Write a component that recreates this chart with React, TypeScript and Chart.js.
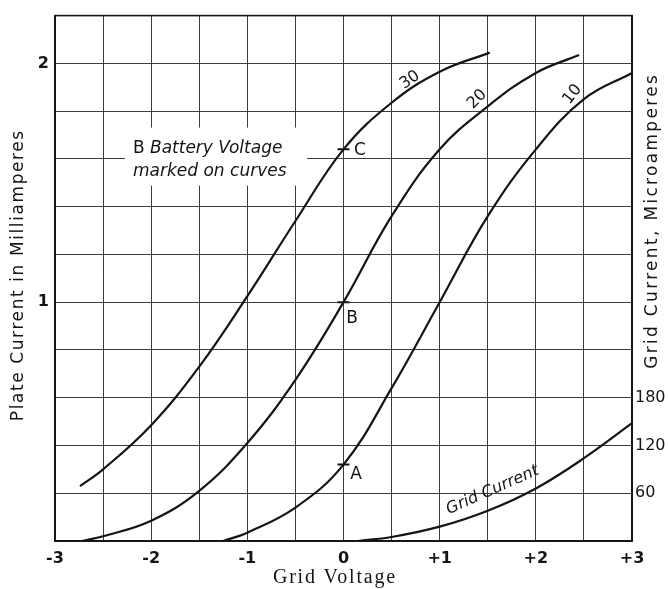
import React, { useEffect, useRef } from 'react';
import { Chart, registerables } from 'chart.js';

Chart.register(...registerables);

// Plate current (mA) vs grid voltage (V) for B battery voltages 30, 20, 10
const gridVoltage30 = [-2.74, -2.5, -2.0, -1.5, -1.0, -0.5, 0, 0.5, 1.0, 1.52];
const plateCurrent30 = [0.23, 0.3, 0.485, 0.73, 1.025, 1.34, 1.64, 1.835, 1.965, 2.045];

const gridVoltage20 = [-2.72, -2.5, -2.0, -1.5, -1.0, -0.5, 0, 0.5, 1.0, 1.5, 2.0, 2.45];
const plateCurrent20 = [0, 0.02, 0.085, 0.21, 0.41, 0.675, 1.0, 1.36, 1.64, 1.82, 1.96, 2.035];

const gridVoltage10 = [-1.25, -1.0, -0.5, 0, 0.5, 1.0, 1.5, 2.0, 2.5, 3.0];
const plateCurrent10 = [0, 0.035, 0.14, 0.32, 0.64, 1.0, 1.36, 1.64, 1.85, 1.96];

// Grid current (microamperes, right axis)
const gridVoltageG = [0.15, 0.5, 1.0, 1.5, 2.0, 2.5, 3.0];
const gridCurrentUA = [0, 5, 18, 38, 66, 104, 148];

// Marked points A, B, C
const markerVoltage = [0, 0, 0];
const markerCurrent = [0.32, 1.0, 1.64];
const markerLabels = ['A', 'B', 'C'];

// Tick labels
const leftTickValues = [1, 2];
const rightTickValues = [60, 120, 180];
const xTickValues = [-3, -2, -1, 0, 1, 2, 3];
const xTickLabels = ['-3', '-2', '-1', '0', '+1', '+2', '+3'];

// Curve labels (B battery voltage)
const curveLabels = ['30', '20', '10'];

const pts = (xs: number[], ys: number[]) => xs.map((x, i) => ({ x, y: ys[i] }));
const near = (v: number, arr: number[]) => arr.findIndex((a) => Math.abs(a - v) < 1e-6);

const INK = '#151515';
const GRID = '#3c3c3c';

function drawFitted(
  ctx: CanvasRenderingContext2D,
  text: string,
  x: number,
  y: number,
  width: number,
  font: string,
  rot: number
) {
  ctx.save();
  ctx.translate(x, y);
  ctx.rotate(rot);
  ctx.font = font;
  ctx.fillStyle = INK;
  ctx.textAlign = 'center';
  ctx.textBaseline = 'middle';
  const w = ctx.measureText(text).width;
  const sp = (width - w) / text.length;
  (ctx as any).letterSpacing = sp + 'px';
  ctx.fillText(text, sp / 2, 0);
  ctx.restore();
}

function drawRot(ctx: CanvasRenderingContext2D, text: string, x: number, y: number, font: string, rotDeg: number) {
  ctx.save();
  ctx.translate(x, y);
  ctx.rotate((rotDeg * Math.PI) / 180);
  ctx.font = font;
  ctx.fillStyle = INK;
  ctx.textAlign = 'center';
  ctx.textBaseline = 'middle';
  ctx.fillText(text, 0, 0);
  ctx.restore();
}

const textPlugin = {
  id: 'textPlugin',
  beforeDatasetsDraw(chart: any) {
    const ctx: CanvasRenderingContext2D = chart.ctx;
    const a = chart.chartArea;
    // white box behind the note
    const bx = a.left + 70;
    const by = a.top + 112;
    ctx.save();
    ctx.fillStyle = '#fff';
    ctx.fillRect(bx, by, 182, 58);
    ctx.fillStyle = INK;
    ctx.textBaseline = 'middle';
    ctx.textAlign = 'left';
    ctx.font = '17px "DejaVu Sans"';
    ctx.fillText('B', bx + 8, by + 21);
    ctx.font = 'italic 17px "DejaVu Sans"';
    ctx.fillText('Battery Voltage', bx + 25, by + 21);
    ctx.fillText('marked on curves', bx + 8, by + 44);
    ctx.restore();
  },
  afterDraw(chart: any) {
    const ctx: CanvasRenderingContext2D = chart.ctx;
    const a = chart.chartArea;
    const xs = chart.scales.x;
    const ys = chart.scales.y;
    // frame
    ctx.save();
    ctx.strokeStyle = INK;
    ctx.lineWidth = 1.6;
    ctx.strokeRect(a.left, a.top, a.right - a.left, a.bottom - a.top);
    ctx.restore();

    // axis titles
    drawFitted(ctx, 'Plate Current in Milliamperes', 19, 276, 292, '17px "DejaVu Sans"', -Math.PI / 2);
    drawFitted(ctx, 'Grid Current, Microamperes', 653, 222, 296, '17px "DejaVu Sans"', -Math.PI / 2);
    drawFitted(ctx, 'Grid Voltage', 334, 578, 124, '20px "Liberation Serif"', 0);

    // curve labels
    const P = (v: number, i: number) => [xs.getPixelForValue(v), ys.getPixelForValue(i)];
    let p = P(0.69, 1.93);
    drawRot(ctx, curveLabels[0], p[0], p[1], '16px "DejaVu Sans"', -35);
    p = P(1.39, 1.85);
    drawRot(ctx, curveLabels[1], p[0], p[1], '16px "DejaVu Sans"', -45);
    p = P(2.38, 1.87);
    drawRot(ctx, curveLabels[2], p[0], p[1], '16px "DejaVu Sans"', -52);

    // marker letters
    const offs = [
      [0.13, -0.04],
      [0.09, -0.07],
      [0.17, -0.005],
    ];
    markerLabels.forEach((t, k) => {
      const q = P(markerVoltage[k] + offs[k][0], markerCurrent[k] + offs[k][1]);
      drawRot(ctx, t, q[0], q[1], '17px "DejaVu Sans"', 0);
    });

    // grid current label
    p = P(1.55, 0.213);
    drawRot(ctx, 'Grid Current', p[0], p[1], 'italic 16px "DejaVu Sans"', -24);
  },
};

export default function App() {
  const ref = useRef<HTMLCanvasElement>(null);

  useEffect(() => {
    const canvas = ref.current;
    if (!canvas) return;
    const lineStyle = {
      borderColor: INK,
      backgroundColor: INK,
      borderWidth: 2.2,
      pointRadius: 0,
      fill: false,
      tension: 0.4,
    };
    const chart = new Chart(canvas, {
      type: 'line',
      data: {
        datasets: [
          { ...lineStyle, label: '30', data: pts(gridVoltage30, plateCurrent30), yAxisID: 'y' },
          { ...lineStyle, label: '20', data: pts(gridVoltage20, plateCurrent20), yAxisID: 'y' },
          { ...lineStyle, label: '10', data: pts(gridVoltage10, plateCurrent10), yAxisID: 'y' },
          { ...lineStyle, label: 'Grid Current', data: pts(gridVoltageG, gridCurrentUA), yAxisID: 'y2' },
          {
            label: 'points',
            data: pts(markerVoltage, markerCurrent),
            yAxisID: 'y',
            showLine: false,
            pointStyle: 'line',
            pointRadius: 6,
            pointBorderWidth: 2,
            pointBorderColor: INK,
            pointBackgroundColor: INK,
          } as any,
        ],
      },
      options: {
        responsive: false,
        animation: false,
        devicePixelRatio: 1,
        layout: { padding: { top: 14, left: 0, right: 0, bottom: 0 } },
        plugins: { legend: { display: false }, tooltip: { enabled: false } },
        scales: {
          x: {
            type: 'linear',
            min: -3,
            max: 3,
            afterFit: (s: any) => {
              s.height = 48;
            },
            grid: { color: GRID, lineWidth: 1, drawTicks: false },
            border: { color: INK, width: 1.6 },
            ticks: {
              stepSize: 0.5,
              autoSkip: false,
              maxRotation: 0,
              padding: 8,
              color: INK,
              font: { family: '"DejaVu Sans"', size: 16, weight: 'bold' },
              callback: (v: any) => {
                const k = near(Number(v), xTickValues);
                return k >= 0 ? xTickLabels[k] : '';
              },
            },
          },
          y: {
            type: 'linear',
            position: 'left',
            min: 0,
            max: 2.2,
            afterFit: (s: any) => {
              s.width = 55;
            },
            grid: { color: GRID, lineWidth: 1, drawTicks: false },
            border: { color: INK, width: 1.6 },
            ticks: {
              stepSize: 0.2,
              autoSkip: false,
              padding: 6,
              color: INK,
              font: { family: '"DejaVu Sans"', size: 16, weight: 'bold' },
              callback: (v: any) => {
                const k = near(Number(v), leftTickValues);
                return k >= 0 ? String(leftTickValues[k]) : '';
              },
            },
          },
          y2: {
            type: 'linear',
            position: 'right',
            min: 0,
            max: 660,
            afterFit: (s: any) => {
              s.width = 36;
            },
            grid: { display: true, drawOnChartArea: false, drawTicks: false },
            border: { color: INK, width: 1.6 },
            ticks: {
              stepSize: 60,
              autoSkip: false,
              padding: 3,
              color: INK,
              font: { family: '"DejaVu Sans"', size: 16 },
              callback: (v: any) => {
                const k = near(Number(v), rightTickValues);
                return k >= 0 ? String(rightTickValues[k]) : '';
              },
            },
          },
        },
      } as any,
      plugins: [textPlugin],
    });
    return () => chart.destroy();
  }, []);

  return (
    <div style={{ position: 'absolute', left: 0, top: 0, width: 668, height: 589, background: '#fff' }}>
      <canvas ref={ref} width={668} height={589} style={{ display: 'block', width: 668, height: 589 }} />
    </div>
  );
}
